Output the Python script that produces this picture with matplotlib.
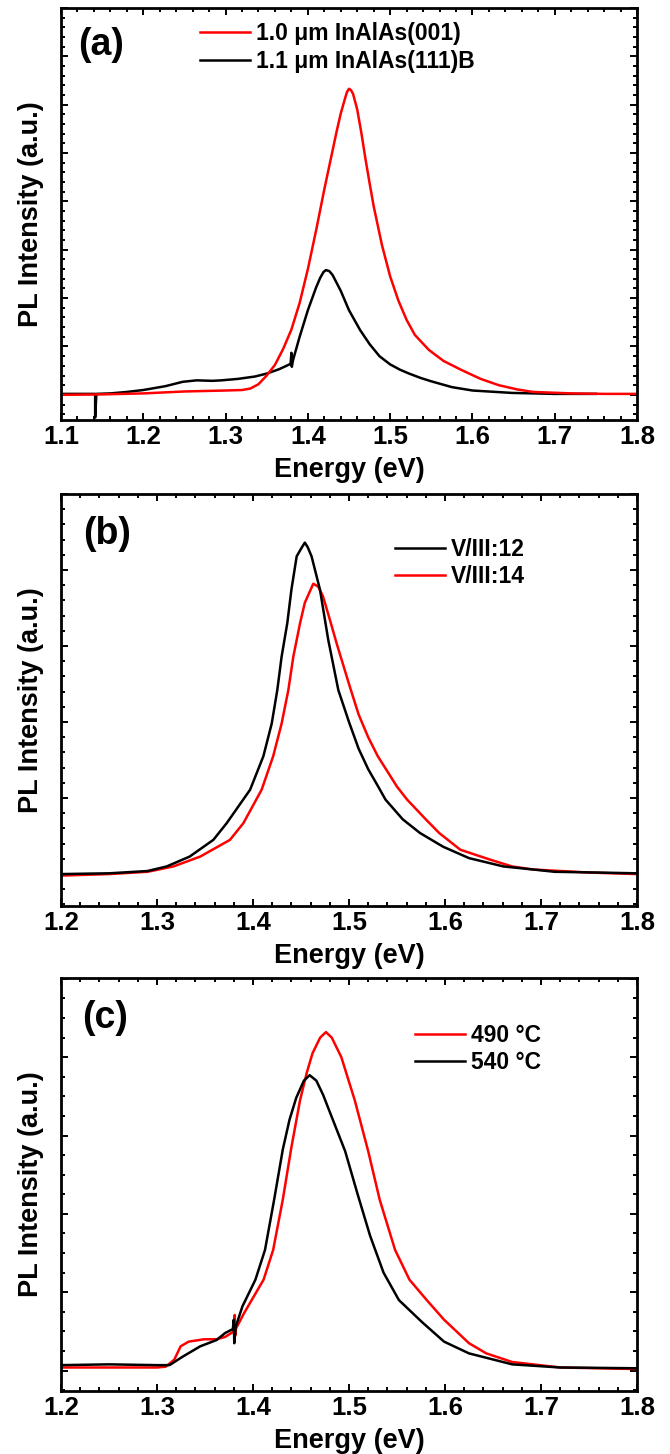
import matplotlib
matplotlib.use('Agg')
import matplotlib.pyplot as plt
from matplotlib.ticker import MultipleLocator, NullFormatter

plt.rcParams['font.family'] = ['Liberation Sans', 'DejaVu Sans']
plt.rcParams['font.weight'] = 'bold'
plt.rcParams['axes.labelweight'] = 'bold'

# ---------------- data ----------------
# Panel (a)
a_red_E = [1.100, 1.150, 1.200, 1.250, 1.300, 1.320, 1.330, 1.340, 1.350, 1.360, 1.370, 1.380,
           1.390, 1.400, 1.410, 1.420, 1.430, 1.435, 1.440, 1.445, 1.4475, 1.450, 1.4525, 1.455,
           1.460, 1.465, 1.470, 1.475, 1.480, 1.490, 1.500, 1.510, 1.520, 1.530, 1.547, 1.565,
           1.586, 1.610, 1.632, 1.655, 1.674, 1.720, 1.760, 1.800]
a_red_I = [0.00, 0.01, 0.03, 0.07, 0.09, 0.10, 0.13, 0.22, 0.40, 0.62, 0.95, 1.35,
           1.90, 2.60, 3.40, 4.25, 5.05, 5.45, 5.82, 6.12, 6.26, 6.33, 6.30, 6.22,
           5.90, 5.42, 4.88, 4.38, 3.90, 3.10, 2.45, 1.95, 1.55, 1.24, 0.93, 0.70,
           0.52, 0.33, 0.20, 0.11, 0.06, 0.03, 0.02, 0.02]
a_blk_E = [1.100, 1.140, 1.1415, 1.1415, 1.143, 1.160, 1.180, 1.200, 1.227, 1.248, 1.265, 1.284,
           1.295, 1.315, 1.336, 1.350, 1.365, 1.379, 1.380, 1.3805, 1.382, 1.390, 1.400, 1.410,
           1.415, 1.419, 1.422, 1.426, 1.430, 1.440, 1.450, 1.4635, 1.475, 1.487, 1.500, 1.512,
           1.523, 1.537, 1.550, 1.575, 1.600, 1.648, 1.700, 1.750]
a_blk_I = [0.02, 0.02, 0.02, -0.47, 0.02, 0.03, 0.06, 0.10, 0.18, 0.27, 0.30, 0.29,
           0.30, 0.33, 0.38, 0.44, 0.53, 0.64, 0.87, 0.58, 0.72, 1.20, 1.75, 2.22,
           2.42, 2.54, 2.58, 2.56, 2.48, 2.15, 1.75, 1.34, 1.05, 0.80, 0.63, 0.52,
           0.44, 0.35, 0.28, 0.16, 0.09, 0.04, 0.02, 0.02]

# Panel (b)
b_blk_E = [1.200, 1.250, 1.290, 1.310, 1.334, 1.3587, 1.3726, 1.397, 1.4108, 1.4195, 1.4253, 1.4298,
           1.4357, 1.440, 1.4455, 1.451, 1.454, 1.457, 1.461, 1.4698, 1.4784, 1.4889, 1.500, 1.510,
           1.520, 1.530, 1.538, 1.556, 1.574, 1.598, 1.625, 1.661, 1.692, 1.714, 1.760, 1.800]
b_blk_I = [0.00, 0.01, 0.04, 0.10, 0.23, 0.45, 0.67, 1.11, 1.55, 1.98, 2.42, 2.86,
           3.30, 3.74, 4.18, 4.30, 4.36, 4.30, 4.18, 3.74, 3.08, 2.42, 2.00, 1.65,
           1.38, 1.16, 0.98, 0.72, 0.54, 0.36, 0.21, 0.10, 0.06, 0.03, 0.02, 0.01]
b_red_E = [1.200, 1.250, 1.290, 1.317, 1.345, 1.376, 1.390, 1.409, 1.421, 1.4298, 1.4368, 1.442,
           1.449, 1.454, 1.4628, 1.468, 1.473, 1.480, 1.487, 1.500, 1.510, 1.520, 1.530, 1.540,
           1.550, 1.5605, 1.580, 1.594, 1.616, 1.647, 1.670, 1.692, 1.750, 1.800]
b_red_I = [-0.02, 0.00, 0.03, 0.10, 0.23, 0.45, 0.67, 1.11, 1.55, 1.98, 2.42, 2.86,
           3.30, 3.57, 3.82, 3.78, 3.65, 3.35, 3.04, 2.50, 2.10, 1.80, 1.55, 1.35,
           1.15, 0.98, 0.72, 0.54, 0.32, 0.19, 0.10, 0.06, 0.02, 0.00]

# Panel (c)
c_red_E = [1.200, 1.250, 1.300, 1.309, 1.318, 1.3246, 1.333, 1.349, 1.362, 1.371, 1.380, 1.381,
           1.3815, 1.382, 1.391, 1.411, 1.421, 1.431, 1.440, 1.449, 1.456, 1.462, 1.470, 1.476,
           1.482, 1.492, 1.506, 1.520, 1.532, 1.548, 1.563, 1.581, 1.599, 1.625, 1.643, 1.670,
           1.720, 1.800]
c_red_I = [0.04, 0.04, 0.04, 0.05, 0.14, 0.31, 0.37, 0.40, 0.40, 0.43, 0.50, 0.71,
           0.45, 0.53, 0.74, 1.16, 1.54, 2.18, 2.85, 3.45, 3.80, 4.05, 4.25, 4.32,
           4.25, 4.00, 3.45, 2.80, 2.18, 1.54, 1.16, 0.90, 0.65, 0.35, 0.22, 0.11,
           0.04, 0.02]
c_blk_E = [1.200, 1.250, 1.300, 1.313, 1.327, 1.345, 1.362, 1.371, 1.379, 1.380, 1.3805, 1.382,
           1.389, 1.4025, 1.4125, 1.422, 1.431, 1.438, 1.445, 1.453, 1.459, 1.466, 1.473, 1.480,
           1.496, 1.509, 1.522, 1.536, 1.552, 1.576, 1.599, 1.625, 1.670, 1.720, 1.800]
c_blk_I = [0.07, 0.08, 0.07, 0.07, 0.18, 0.31, 0.39, 0.48, 0.53, 0.65, 0.35, 0.56,
           0.82, 1.16, 1.54, 2.18, 2.82, 3.20, 3.48, 3.70, 3.77, 3.70, 3.52, 3.30,
           2.80, 2.25, 1.72, 1.25, 0.90, 0.62, 0.37, 0.22, 0.08, 0.04, 0.03]

a_labels = ['1.0 \u03bcm InAlAs(001)', '1.1 \u03bcm InAlAs(111)B']
b_labels = ['V/III:12', 'V/III:14']
c_labels = ['490 \u00b0C', '540 \u00b0C']
panel_tags = ['(a)', '(b)', '(c)']

RED = '#ff0000'
BLK = '#000000'
LW = 1.8

fig = plt.figure(figsize=(6.70, 14.54), dpi=100)
W, H = 670.0, 1454.0
left, right = 61, 637
boxes = [(8, 420), (494, 906), (978, 1391)]
axes = []
for top, bot in boxes:
    ax = fig.add_axes([left / W, 1 - bot / H, (right - left) / W, (bot - top) / H])
    axes.append(ax)


def style(ax, xlim, ylim, ymaj, ymin):
    ax.set_xlim(*xlim)
    ax.set_ylim(*ylim)
    ax.xaxis.set_major_locator(MultipleLocator(0.1))
    ax.xaxis.set_minor_locator(MultipleLocator(0.02))
    ax.yaxis.set_major_locator(MultipleLocator(ymaj))
    ax.yaxis.set_minor_locator(MultipleLocator(ymin))
    ax.yaxis.set_major_formatter(NullFormatter())
    ax.tick_params(which='both', direction='in', top=True, right=True, width=1.4)
    ax.tick_params(which='major', length=5, pad=3.5, labelsize=18.5)
    ax.tick_params(which='minor', length=2.6)
    for s in ax.spines.values():
        s.set_linewidth(2.0)
    ax.set_xticks(ax.get_xticks())
    ax.set_xticklabels(['%.1f' % v for v in ax.get_xticks()])
    ax.set_xlim(*xlim)
    ax.set_xlabel('Energy (eV)', fontsize=19.5)
    ax.xaxis.set_label_coords(0.5, -0.090)
    ax.set_ylabel('PL Intensity (a.u.)', fontsize=19.5)
    ax.yaxis.set_label_coords(-0.03, 0.5)


leg_kw = dict(loc='upper left', frameon=False, fontsize=16.5, handlelength=2.18,
              handletextpad=0.26, labelspacing=0.2, borderpad=0, borderaxespad=0)

# (a)
ax = axes[0]
lb, = ax.plot(a_blk_E, a_blk_I, color=BLK, lw=LW)
lr, = ax.plot(a_red_E, a_red_I, color=RED, lw=LW)
style(ax, (1.1, 1.8), (-0.52, 8.0), 1.0, 0.2)
ax.legend([lr, lb], a_labels, bbox_to_anchor=(0.241, 0.965), **leg_kw)

# (b)
ax = axes[1]
lr, = ax.plot(b_red_E, b_red_I, color=RED, lw=LW)
lb, = ax.plot(b_blk_E, b_blk_I, color=BLK, lw=LW)
style(ax, (1.2, 1.8), (-0.42, 5.0), 1.0, 0.2)
ax.legend([lb, lr], b_labels, bbox_to_anchor=(0.580, 0.894), **leg_kw)

# (c)
ax = axes[2]
lr, = ax.plot(c_red_E, c_red_I, color=RED, lw=LW)
lb, = ax.plot(c_blk_E, c_blk_I, color=BLK, lw=LW)
style(ax, (1.2, 1.8), (-0.26, 5.01), 1.0, 0.25)
ax.legend([lr, lb], c_labels, bbox_to_anchor=(0.615, 0.889), **leg_kw)

tag_pos = [(0.030, 0.910), (0.038, 0.902), (0.036, 0.904)]
for ax, tag, (tx, ty) in zip(axes, panel_tags, tag_pos):
    ax.text(tx, ty, tag, transform=ax.transAxes, fontsize=27, fontweight='bold',
            ha='left', va='center')

fig.savefig('out.png', dpi=100)
